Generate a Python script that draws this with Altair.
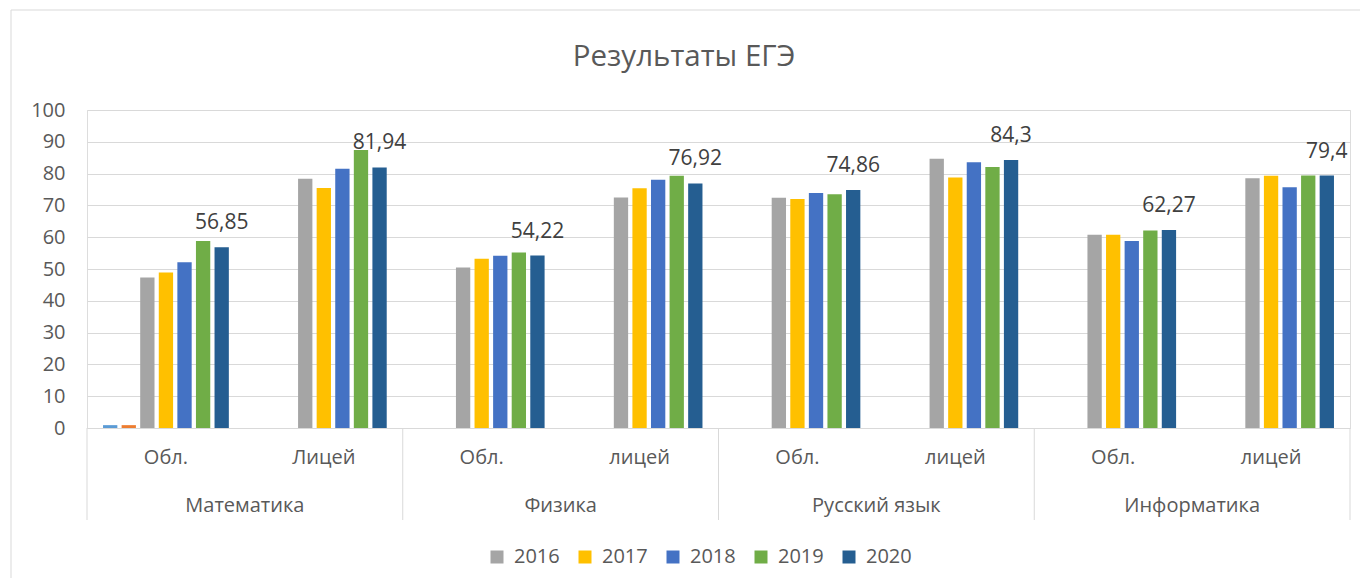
import altair as alt
import pandas as pd

subjects = ["Математика", "Физика", "Русский язык", "Информатика"]
levels = [["Обл.", "Лицей"], ["Обл.", "лицей"], ["Обл.", "лицей"], ["Обл.", "лицей"]]
years = ["2016", "2017", "2018", "2019", "2020"]
hidden_series = ["Ряд1", "Ряд2"]
hidden_r1 = [0.9, None, None, None, None, None, None, None]
hidden_r2 = [0.9, None, None, None, None, None, None, None]
v2016 = [47.3, 78.4, 50.5, 72.5, 72.4, 84.7, 60.8, 78.5]
v2017 = [48.9, 75.5, 53.2, 75.4, 72.0, 78.8, 60.8, 79.3]
v2018 = [52.1, 81.5, 54.2, 78.1, 73.9, 83.6, 58.8, 75.7]
v2019 = [58.8, 87.4, 55.2, 79.3, 73.5, 82.1, 62.1, 79.4]
v2020 = [56.85, 81.94, 54.22, 76.92, 74.86, 84.3, 62.27, 79.4]
boundaries = [0, 1, 2, 3, 4]
y_ticks = [0, 10, 20, 30, 40, 50, 60, 70, 80, 90, 100]
chart_title = "Результаты ЕГЭ"

colors = ["#5B9BD5", "#ED7D31", "#A5A5A5", "#FFC000", "#4472C4", "#70AD47", "#255E91"]
all_series = hidden_series + years
series_values = [hidden_r1, hidden_r2, v2016, v2017, v2018, v2019, v2020]

keys = []
for s, lv in zip(subjects, levels):
    for l in lv:
        keys.append(s + "|" + l)

rows = []
for name, vals in zip(all_series, series_values):
    for k, v in zip(keys, vals):
        if v is None:
            continue
        rows.append({"key": k, "series": name, "value": v,
                     "label": (("%g" % v).replace(".", ","))})
df = pd.DataFrame(rows)

FONT = "Open Sans"
GRAY = "#595959"
W, H = 1263, 318

xscale = alt.Scale(domain=keys, paddingInner=0.176, paddingOuter=0.088)
xoff = alt.Scale(domain=all_series, paddingInner=0.23, paddingOuter=0.115)
yscale = alt.Scale(domain=[0, 100], nice=False)


def yaxis():
    return alt.Axis(values=y_ticks, domain=False, ticks=False,
                    gridColor="#D9D9D9", gridWidth=1, labelOverlap=False,
                    labelFont=FONT, labelFontSize=20, labelColor=GRAY,
                    labelPadding=22)


bars = alt.Chart(df).mark_bar().encode(
    x=alt.X("key:N", scale=xscale, sort=keys, title=None,
            axis=alt.Axis(labelExpr="split(datum.label, '|')[1]", labelAngle=0,
                          ticks=False, domainColor="#D9D9D9", domainWidth=1,
                          labelFont=FONT, labelFontSize=20, labelColor=GRAY,
                          labelPadding=19, grid=False)),
    xOffset=alt.XOffset("series:N", scale=xoff, sort=all_series),
    y=alt.Y("value:Q", scale=yscale, title=None, axis=yaxis()),
    color=alt.Color("series:N", scale=alt.Scale(domain=all_series, range=colors),
                    legend=alt.Legend(values=years, title=None, orient="none",
                                      legendX=400, legendY=437, direction="horizontal",
                                      symbolType="square", symbolSize=169,
                                      symbolStrokeWidth=0, labelFont=FONT,
                                      labelFontSize=20, labelColor=GRAY,
                                      labelOffset=7, columnPadding=15)),
)

labels = alt.Chart(df).transform_filter(alt.datum.series == "2020").mark_text(
    dy=-24, font=FONT, fontSize=21, color="#404040", baseline="middle"
).encode(
    x=alt.X("key:N", scale=xscale, sort=keys, axis=None),
    xOffset=alt.XOffset("series:N", scale=xoff, sort=all_series),
    y=alt.Y("value:Q", scale=yscale, title=None, axis=yaxis()),
    text="label:N",
)

sub_df = pd.DataFrame({"subject": subjects})
subj = alt.Chart(sub_df).mark_text(font=FONT, fontSize=20, color=GRAY, baseline="middle").encode(
    x=alt.X("subject:N", sort=subjects, scale=alt.Scale(domain=subjects, paddingInner=0, paddingOuter=0), axis=None),
    y=alt.value(H + 78),
    text="subject:N",
)

sep = alt.Chart(pd.DataFrame({"b": boundaries})).mark_rule(color="#D9D9D9", strokeWidth=1).encode(
    x=alt.X("b:Q", scale=alt.Scale(domain=[0, 4], nice=False, zero=False), axis=None),
    y=alt.value(H),
    y2=alt.value(H + 92),
)

frame = alt.Data(values=[{"t": chart_title}])
border_left = alt.Chart(frame).mark_rule(color="#D9D9D9", strokeWidth=1).encode(
    x=alt.value(-76), y=alt.value(-100), y2=alt.value(H + 160))
border_top = alt.Chart(frame).mark_rule(color="#D9D9D9", strokeWidth=1).encode(
    x=alt.value(-76), x2=alt.value(W + 12), y=alt.value(-100))
title = alt.Chart(frame).mark_text(font=FONT, fontSize=29.5, fontWeight=400, color=GRAY,
                                   baseline="middle", align="center").encode(
    x=alt.value(597), y=alt.value(-53), text="t:N")

chart = alt.layer(border_left, border_top, title, bars, labels, subj, sep).resolve_scale(
    x="independent"
).properties(
    width=W, height=H,
    autosize="none",
    padding={"left": 79, "top": 102, "right": 10, "bottom": 150},
).configure_view(strokeWidth=0, stroke=None).configure(background="white")

chart.save("out.html", embed_options={"renderer": "svg", "actions": False})
